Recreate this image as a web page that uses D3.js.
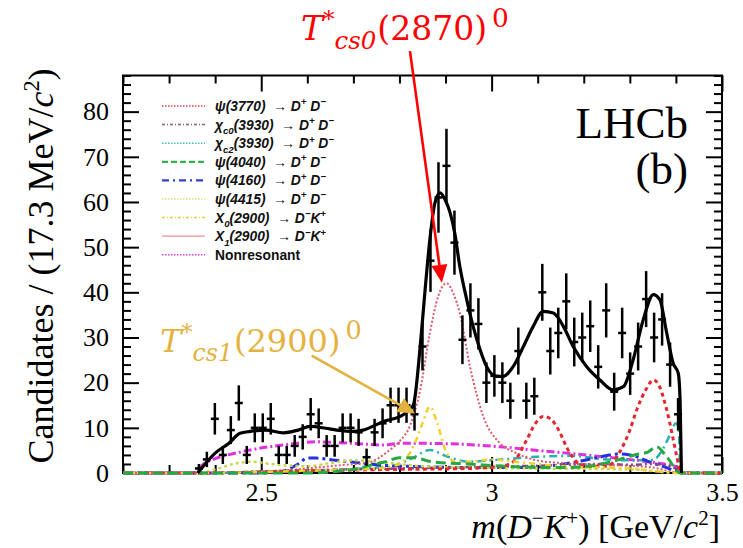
<!DOCTYPE html>
<html>
<head>
<meta charset="utf-8">
<script src="https://cdn.jsdelivr.net/npm/d3@7"></script>
<style>
  html, body { margin: 0; padding: 0; background: #fff; }
  svg { display: block; }
</style>
</head>
<body>
<svg id="chart" width="743" height="548"></svg>
<script>
// ---------- data ----------
// m(D-K+) histogram: 75 bins of 17.33 MeV over [2.2, 3.5] GeV; first filled bin index
const massRange = [2.2, 3.5];
const nBins = 75;
const firstBin = 9;
const counts = [1, 3, 12, 4, 9.5, 15.5, 4, 10, 10, 12,
                4, 4, 6, 8, 13, 11, 6, 6, 10, 10,
                9, 3.5, 9, 11, 15, 15, 15, 13, 28, 47,
                61, 68, 51, 29.5, 36, 33, 20, 21.5, 20, 16,
                27, 16, 17, 40, 27, 31, 38, 29, 30, 32.5,
                23.5, 36, 18, 31, 22, 28, 38.5, 30, 34, 24,
                13];
const errors = [1, 1.7, 3.5, 2, 3.1, 3.9, 2, 3.2, 3.2, 3.5,
                2, 2, 2.4, 2.8, 3.6, 3.3, 2.4, 2.4, 3.2, 3.2,
                3, 1.9, 3, 3.3, 3.9, 3.9, 3.9, 3.6, 5.3, 6.9,
                7.8, 8.2, 7.1, 5.4, 6, 5.7, 4.5, 4.6, 4.5, 4,
                5.2, 4, 4.1, 6.3, 5.2, 5.6, 6.2, 5.4, 5.5, 5.7,
                4.8, 6, 4.2, 5.6, 4.7, 5.3, 6.2, 5.5, 5.8, 4.9,
                3.6];

// fit projections: [mass (GeV), candidates per bin]
const totalFit = [[2.362,0],[2.37,1],[2.40,4.4],[2.43,6.6],[2.454,8.8],[2.476,9.2],[2.51,9.5],[2.548,8.9],
  [2.58,9.5],[2.606,10.3],[2.64,9.9],[2.664,9.5],[2.70,9.2],[2.721,9.5],[2.765,11.4],[2.808,12.9],
  [2.83,15],[2.845,28],[2.855,39.8],[2.866,51.7],[2.877,59.8],[2.888,62],[2.899,60.5],[2.910,57.6],
  [2.920,53.1],[2.931,45.7],[2.946,38.4],[2.960,32.4],[2.975,27.3],[2.989,23.6],[3.011,21.4],[3.025,21.4],
  [3.047,23.6],[3.069,28],[3.090,32.4],[3.112,35.8],[3.134,35.4],[3.156,32.4],[3.177,28],[3.206,23.6],
  [3.235,20.6],[3.264,18.4],[3.286,19.1],[3.307,25],[3.329,33.9],[3.351,39.5],[3.365,38.4],[3.380,31],
  [3.394,24.3],[3.405,22.1],[3.409,16.2],[3.412,0]];
const psi3770 = [[2.2,0],[2.364,0],[2.6,0.5],[2.8,0.8],[2.95,1],[3.02,1.5],[3.047,2.5],[3.076,7.3],[3.095,11],
  [3.112,12.5],[3.128,12],[3.141,10.3],[3.170,4.4],[3.20,1.5],[3.25,1.5],[3.28,5],[3.30,9.5],[3.315,14],
  [3.335,18.5],[3.351,20.6],[3.365,19],[3.38,14],[3.402,3.6],[3.41,0],[3.5,0]];
const chic0 = [[2.2,0],[2.364,0],[2.5,0.3],[2.7,0.8],[2.9,1.2],[3.1,1.6],[3.25,2],[3.3,1.8],[3.35,2],[3.40,1],[3.41,0],[3.5,0]];
const chic2 = [[2.2,0],[2.364,0],[2.6,0.5],[2.78,1.5],[2.83,3.4],[2.866,5.1],[2.90,3.8],[2.95,2.5],[3.02,3],
  [3.10,3.6],[3.17,3.8],[3.25,3],[3.30,2.8],[3.35,2.9],[3.37,5],[3.385,8],[3.40,11],[3.406,10],[3.41,0],[3.5,0]];
const psi4040 = [[2.2,0],[2.6,0],[2.70,0.8],[2.74,1.8],[2.77,2.5],[2.80,3.4],[2.83,3.4],[2.87,2.5],[2.95,2],
  [3.05,1.4],[3.15,1.2],[3.20,1.4],[3.275,2.9],[3.31,4],[3.34,4.7],[3.358,5.8],[3.38,3.6],[3.41,0],[3.5,0]];
const psi4160 = [[2.2,0],[2.5,0],[2.55,0.5],[2.58,2],[2.60,3.3],[2.62,3.3],[2.66,2.8],[2.70,2.4],[2.75,1.8],
  [2.85,1.4],[2.95,1.2],[3.05,1.2],[3.12,1.5],[3.17,2.2],[3.22,3.2],[3.275,4.2],[3.30,4],[3.35,2.2],
  [3.38,1.2],[3.41,0],[3.5,0]];
const psi4415 = [[2.2,0],[2.364,0],[2.40,0.8],[2.44,2],[2.48,2.5],[2.52,2],[2.60,1.5],[2.65,2.2],[2.70,2.8],
  [2.75,2.5],[2.85,1.5],[2.95,1.2],[3.1,1],[3.3,0.8],[3.41,0],[3.5,0]];
const x0_2900 = [[2.2,0],[2.364,0],[2.6,0.5],[2.75,1],[2.80,2],[2.83,5.8],[2.85,11],[2.866,14.7],[2.882,11],
  [2.90,5],[2.92,2.5],[2.95,2.5],[3.0,3],[3.05,2.5],[3.15,1.5],[3.3,1],[3.41,0],[3.5,0]];
const x1_2900 = [[2.2,0],[2.364,0],[2.45,0.2],[2.55,0.6],[2.62,1.2],[2.68,1.8],[2.729,2.2],[2.779,5.1],[2.80,7],
  [2.823,10.5],[2.845,18.4],[2.866,31],[2.884,39.1],[2.902,42],[2.918,39.5],[2.931,35.4],[2.953,23.6],
  [2.982,12.5],[3.018,6.6],[3.054,4.4],[3.09,3],[3.15,2.2],[3.25,1.8],[3.35,1.2],[3.41,0],[3.5,0]];
const nonres = [[2.2,0],[2.362,0],[2.365,1],[2.403,3.3],[2.44,4.3],[2.476,5.1],[2.548,6.2],[2.62,6.9],
  [2.69,6.6],[2.77,6.2],[2.80,6.6],[2.90,6.5],[3.018,5.8],[3.10,5],[3.163,4.4],[3.24,3.6],[3.307,2.9],
  [3.36,2.2],[3.40,1.4],[3.41,0],[3.5,0]];

// axis ticks
const xMajor = [2.5, 3, 3.5];
const xMinor = [2.2, 2.3, 2.4, 2.6, 2.7, 2.8, 2.9, 3.1, 3.2, 3.3, 3.4];
const yMajor = [0, 10, 20, 30, 40, 50, 60, 70, 80];
const yMinor = [2, 4, 6, 8, 12, 14, 16, 18, 22, 24, 26, 28, 32, 34, 36, 38, 42, 44, 46, 48,
                52, 54, 56, 58, 62, 64, 66, 68, 72, 74, 76, 78, 82, 84, 86, 88];

// components in legend order, with legend labels (segments: sup/sub flags)
const components = [
  { pts: psi3770, color: "#e8262e", dash: "4,3.5", w: 3, z: 7,
    leg: { color: "#e04050", dash: "1.5,1.5", w: 1.5 },
    label: [{t:"ψ(3770)  → D"},{t:"+",sup:1},{t:" D"},{t:"−",sup:1}] },
  { pts: chic0, color: "#7a4a8a", dash: "6,3,2,3,2,3", w: 2.5, z: 3,
    leg: { color: "#806080", dash: "3,2,1,2", w: 1.5 },
    label: [{t:"χ"},{t:"c0",sub:1},{t:"(3930)  → D"},{t:"+",sup:1},{t:" D"},{t:"−",sup:1}] },
  { pts: chic2, color: "#2ab0b0", dash: "8,4,2,4", w: 2.5, z: 1,
    leg: { color: "#40c0c0", dash: "1.5,1.5", w: 1.5 },
    label: [{t:"χ"},{t:"c2",sub:1},{t:"(3930)  → D"},{t:"+",sup:1},{t:" D"},{t:"−",sup:1}] },
  { pts: psi4040, color: "#27a843", dash: "10,5", w: 3, z: 9,
    leg: { color: "#30b050", dash: "6,3", w: 2.2 },
    label: [{t:"ψ(4040)  → D"},{t:"+",sup:1},{t:" D"},{t:"−",sup:1}] },
  { pts: psi4160, color: "#2233dd", dash: "10,4,3,4", w: 3, z: 2,
    leg: { color: "#3040d0", dash: "7,4,2,4", w: 2.2 },
    label: [{t:"ψ(4160)  → D"},{t:"+",sup:1},{t:" D"},{t:"−",sup:1}] },
  { pts: psi4415, color: "#c8d84a", dash: "3,3", w: 2.5, z: 4,
    leg: { color: "#e0e070", dash: "1.5,1.5", w: 1.5 },
    label: [{t:"ψ(4415)  → D"},{t:"+",sup:1},{t:" D"},{t:"−",sup:1}] },
  { pts: x0_2900, color: "#f2cf2a", dash: "6,4,2,4", w: 2.5, z: 8,
    leg: { color: "#f0c840", dash: "3,2,1,2", w: 1.5 },
    label: [{t:"X"},{t:"0",sub:1},{t:"(2900)  → D"},{t:"−",sup:1},{t:"K"},{t:"+",sup:1}] },
  { pts: x1_2900, color: "#dc5a6a", dash: "2,2", w: 2, z: 5,
    leg: { color: "#f09090", dash: null, w: 1.3 },
    label: [{t:"X"},{t:"1",sub:1},{t:"(2900)  → D"},{t:"−",sup:1},{t:"K"},{t:"+",sup:1}] },
  { pts: nonres, color: "#e030e0", dash: "8,3,2,3", w: 3, z: 0,
    leg: { color: "#e040e0", dash: "1.5,1.5", w: 1.5 },
    label: [{t:"Nonresonant", upright:1}] }
];

// ---------- layout ----------
const frame = { left: 123, right: 722, top: 75.5, bottom: 473 };
const svg = d3.select("#chart");
const x = d3.scaleLinear().domain(massRange).range([frame.left, frame.right]);
const y = d3.scaleLinear().domain([0, 88]).range([frame.bottom, frame.top]);
const binWidth = (massRange[1] - massRange[0]) / nBins;
const serif = "'Liberation Serif', 'Times New Roman', serif";

// ---------- axes ----------
function styleAxis(g) {
  g.select(".domain").remove();
  g.selectAll(".tick line").attr("stroke", "#000").attr("stroke-width", 2);
  g.selectAll(".tick text").attr("fill", "#000")
    .attr("font-family", serif).attr("font-size", 26);
}
const axes = svg.append("g");
axes.append("g").attr("transform", `translate(0,${frame.bottom})`)
  .call(d3.axisBottom(x).tickValues(xMajor).tickSize(-16).tickPadding(10).tickFormat(d3.format("~g")))
  .call(styleAxis);
axes.append("g").attr("transform", `translate(0,${frame.bottom})`)
  .call(d3.axisBottom(x).tickValues(xMinor).tickSize(-8).tickFormat("")).call(styleAxis);
axes.append("g").attr("transform", `translate(0,${frame.top})`)
  .call(d3.axisTop(x).tickValues(xMajor).tickSize(-16).tickFormat("")).call(styleAxis);
axes.append("g").attr("transform", `translate(0,${frame.top})`)
  .call(d3.axisTop(x).tickValues(xMinor).tickSize(-8).tickFormat("")).call(styleAxis);
axes.append("g").attr("transform", `translate(${frame.left},0)`)
  .call(d3.axisLeft(y).tickValues(yMajor).tickSize(-16).tickPadding(14)).call(styleAxis);
axes.append("g").attr("transform", `translate(${frame.left},0)`)
  .call(d3.axisLeft(y).tickValues(yMinor).tickSize(-8).tickFormat("")).call(styleAxis);
axes.append("g").attr("transform", `translate(${frame.right},0)`)
  .call(d3.axisRight(y).tickValues(yMajor).tickSize(-16).tickFormat("")).call(styleAxis);
axes.append("g").attr("transform", `translate(${frame.right},0)`)
  .call(d3.axisRight(y).tickValues(yMinor).tickSize(-8).tickFormat("")).call(styleAxis);

svg.append("rect")
  .attr("x", frame.left).attr("y", frame.top)
  .attr("width", frame.right - frame.left).attr("height", frame.bottom - frame.top)
  .attr("fill", "none").attr("stroke", "#000").attr("stroke-width", 2);

// ---------- rich text helper ----------
function rich(textSel, segs, size, opts = {}) {
  let shift = 0;
  segs.forEach(s => {
    const target = s.sup ? -(opts.supRaise || 0.38) * size : s.sub ? (opts.subDrop || 0.28) * size : 0;
    const ts = textSel.append("tspan").text(s.t).attr("dy", target - shift);
    shift = target;
    if (s.sup || s.sub) ts.attr("font-size", (opts.scale || 0.65) * size);
    if (s.i) ts.attr("font-style", "italic");
    if (s.upright) ts.attr("font-style", "normal");
  });
}

// ---------- fit components ----------
const line = d3.line().x(d => x(d[0])).y(d => y(d[1])).curve(d3.curveMonotoneX);
const curves = svg.append("g").attr("fill", "none");
components.slice().sort((a, b) => a.z - b.z).forEach(c => {
  curves.append("path").attr("d", line(c.pts))
    .attr("stroke", c.color).attr("stroke-width", c.w)
    .attr("stroke-dasharray", c.dash);
});

// ---------- data points ----------
const pts = counts.map((v, k) => ({
  m: massRange[0] + (firstBin + k + 0.5) * binWidth, v, e: errors[k]
}));
const dataG = svg.append("g").attr("stroke", "#000").attr("stroke-width", 2.5);
dataG.selectAll("line.err").data(pts).join("line").attr("class", "err")
  .attr("x1", d => x(d.m)).attr("x2", d => x(d.m))
  .attr("y1", d => y(Math.max(0, d.v - d.e))).attr("y2", d => y(d.v + d.e));
dataG.selectAll("line.bin").data(pts).join("line").attr("class", "bin")
  .attr("x1", d => x(d.m - binWidth / 2)).attr("x2", d => x(d.m + binWidth / 2))
  .attr("y1", d => y(d.v)).attr("y2", d => y(d.v));

// ---------- total fit ----------
svg.append("path").attr("d", line(totalFit))
  .attr("fill", "none").attr("stroke", "#000").attr("stroke-width", 3.2)
  .attr("stroke-linejoin", "round");

// ---------- legend ----------
const legend = svg.append("g");
components.forEach((c, k) => {
  const cy = 106 + k * 18.6;
  legend.append("line").attr("x1", 162).attr("x2", 205).attr("y1", cy).attr("y2", cy)
    .attr("stroke", c.leg.color).attr("stroke-width", c.leg.w)
    .attr("stroke-dasharray", c.leg.dash);
  const t = legend.append("text").attr("x", 215).attr("y", cy + 5)
    .attr("font-family", "'Liberation Sans', Arial, sans-serif")
    .attr("font-weight", "bold").attr("font-style", "italic").attr("font-size", 13.8)
    .attr("fill", "#111").attr("xml:space", "preserve").style("white-space", "pre");
  rich(t, c.label, 13.8, { supRaise: 0.4, subDrop: 0.35, scale: 0.7 });
});

// ---------- experiment tag ----------
svg.append("text").attr("x", 688).attr("y", 138).attr("text-anchor", "end")
  .attr("font-family", serif).attr("font-size", 45).text("LHCb");
svg.append("text").attr("x", 688).attr("y", 184).attr("text-anchor", "end")
  .attr("font-family", serif).attr("font-size", 45).text("(b)");

// ---------- axis titles ----------
const yTitle = svg.append("text")
  .attr("transform", "translate(53,266) rotate(-90)").attr("text-anchor", "middle")
  .attr("font-family", serif).attr("font-size", 36);
rich(yTitle, [{t:"Candidates / (17.3 MeV/"},{t:"c",i:1},{t:"2",sup:1},{t:")"}], 36, { scale: 0.62 });

const xTitle = svg.append("text").attr("x", 720).attr("y", 538).attr("text-anchor", "end")
  .attr("font-family", serif).attr("font-size", 34);
rich(xTitle, [{t:"m",i:1},{t:"("},{t:"D",i:1},{t:"−",sup:1},{t:"K",i:1},{t:"+",sup:1},
              {t:") [GeV/"},{t:"c",i:1},{t:"2",sup:1},{t:"]"}], 34, { scale: 0.62 });

// ---------- state annotations: T, raised *, lowered subscript, mass, raised charge ----------
const mathFont = "'DejaVu Serif', serif";
function stateLabel(x0, base, size, color, sub, mass) {
  const t = svg.append("text").attr("x", x0).attr("y", base)
    .attr("fill", color).attr("font-family", mathFont).attr("font-size", size);
  const T = t.append("tspan").attr("font-style", "italic").text("T");
  let cx = x0 + T.node().getComputedTextLength();
  const star = t.append("tspan").attr("x", cx).attr("y", base - size * 0.38)
    .attr("font-size", size * 0.7).attr("font-style", "italic").text("*");
  cx += star.node().getComputedTextLength();
  const s = t.append("tspan").attr("x", cx).attr("y", base + size * 0.27)
    .attr("font-size", size * 0.74).attr("font-style", "italic").text(sub);
  cx += s.node().getComputedTextLength() + 1;
  const m = t.append("tspan").attr("x", cx).attr("y", base).text(mass);
  cx += m.node().getComputedTextLength() + 5;
  t.append("tspan").attr("x", cx).attr("y", base - size * 0.4)
    .attr("font-size", size * 0.8).text("0");
}
stateLabel(301, 40, 33, "#ff0000", "cs0", "(2870)");
stateLabel(160, 352, 32, "#e5b23f", "cs1", "(2900)");

// arrows: [start, tip] in (mass, candidates) coordinates
const redArrow = [[2.8228, 93.4], [2.892, 42.1]];
const goldArrow = [[2.6095, 26.0], [2.8337, 13.2]];
function arrow(ends, color, width, headLen, headHalf) {
  const [x1, y1] = [x(ends[0][0]), y(ends[0][1])];
  const [x2, y2] = [x(ends[1][0]), y(ends[1][1])];
  const a = Math.atan2(y2 - y1, x2 - x1);
  const bx = x2 - headLen * Math.cos(a), by = y2 - headLen * Math.sin(a);
  const g = svg.append("g");
  g.append("line").attr("x1", x1).attr("y1", y1).attr("x2", bx).attr("y2", by)
    .attr("stroke", color).attr("stroke-width", width);
  const px = -Math.sin(a) * headHalf, py = Math.cos(a) * headHalf;
  g.append("polygon").attr("fill", color)
    .attr("points", `${x2},${y2} ${bx + px},${by + py} ${bx - px},${by - py}`);
}
arrow(redArrow, "#ff0000", 2.6, 18, 8);
arrow(goldArrow, "#e5b23f", 2.6, 17, 8);
</script>
</body>
</html>
